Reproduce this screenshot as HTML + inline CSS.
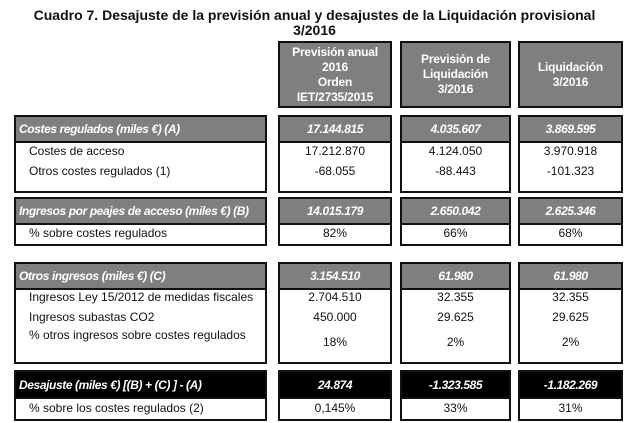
<!DOCTYPE html>
<html><head><meta charset="utf-8"><style>
body{margin:0;width:625px;height:423px;background:#fff;font-family:"Liberation Sans",Arial,sans-serif;position:relative;overflow:hidden}
.t{position:absolute;left:2px;width:625px;text-align:center;font-weight:bold;font-size:14px;line-height:15px;color:#111}
.box{position:absolute;border:2px solid #111;box-sizing:border-box;background:#fff}
.hd{position:absolute;background:#7f7f7f;color:#fff;font-weight:bold;font-size:12px;display:flex;align-items:center;justify-content:center;text-align:center;line-height:15px;border:2px solid #111;box-sizing:border-box;letter-spacing:-0.2px}
.c{position:absolute;font-size:12px;color:#111;white-space:nowrap}
.g{position:absolute;background:#7f7f7f;color:#fff;font-style:italic;font-weight:bold;font-size:12px;display:flex;align-items:center;white-space:nowrap;letter-spacing:-0.4px}
.k{background:#000}
</style></head><body>
<div class="t" style="top:8px">Cuadro 7. Desajuste de la previsión anual y desajustes de la Liquidación provisional<br>3/2016</div>
<div class="hd" style="left:278px;top:41px;width:114px;height:67px">Previsión anual<br>2016<br>Orden<br>IET/2735/2015</div>
<div class="hd" style="left:400px;top:41px;width:111px;height:67px">Previsión de<br>Liquidación<br>3/2016</div>
<div class="hd" style="left:518px;top:41px;width:105px;height:67px">Liquidación<br>3/2016</div>
<div id="root"></div>
<script>
const cols=[[14,253],[278,114],[400,111],[518,105]];
const sections=[
 {top:115,h:78,hh:26,dark:false,head:["Costes regulados (miles €) (A)","17.144.815","4.035.607","3.869.595"],
  rows:[[152,"Costes de acceso","17.212.870","4.124.050","3.970.918"],[172,"Otros costes regulados (1)","-68.055","-88.443","-101.323"]]},
 {top:197,h:49,hh:26,dark:false,head:["Ingresos por peajes de acceso (miles €) (B)","14.015.179","2.650.042","2.625.346"],
  rows:[[234,"% sobre costes regulados","82%","66%","68%"]]},
 {top:262,h:102,hh:26,dark:false,head:["Otros ingresos (miles €) (C)","3.154.510","61.980","61.980"],
  rows:[[298,"Ingresos Ley 15/2012 de medidas fiscales","2.704.510","32.355","32.355"],[318,"Ingresos subastas CO2","450.000","29.625","29.625"],[343,"% otros ingresos sobre costes regulados","18%","2%","2%"]]},
 {top:370,h:51,hh:27,dark:true,head:["Desajuste (miles €) [(B) + (C) ] - (A)","24.874","-1.323.585","-1.182.269"],
  rows:[[409,"% sobre los costes regulados (2)","0,145%","33%","31%"]]}
];
const root=document.getElementById('root');
sections.forEach((s,si)=>{
 cols.forEach((c,ci)=>{
  const b=document.createElement('div');b.className='box';
  
  
  b.style.cssText=`left:${c[0]}px;top:${s.top}px;width:${c[1]}px;height:${s.h}px`;
  const g=document.createElement('div');g.className='g'+(s.dark?' k':'');
  
  
  g.style.cssText=`left:0;top:0;right:0;height:${s.hh-2}px;border-bottom:2px solid #111;`+(ci==0?'padding-left:3px;':'justify-content:center;');
  g.textContent=s.head[ci];b.appendChild(g);
  s.rows.forEach((r,ri)=>{
   const t=document.createElement('div');t.className='c';
   
   
   let y=r[0]-s.top-2-8; if(ci==0&&si==2&&ri==2)y-=7;
   t.style.top=y+'px';
   if(ci==0){t.style.left='13px';}else{t.style.left='0';t.style.width='100%';t.style.textAlign='center';}
   t.textContent=r[ci+1];b.appendChild(t);
  });
  root.appendChild(b);
 });
});
</script>
</body></html>
